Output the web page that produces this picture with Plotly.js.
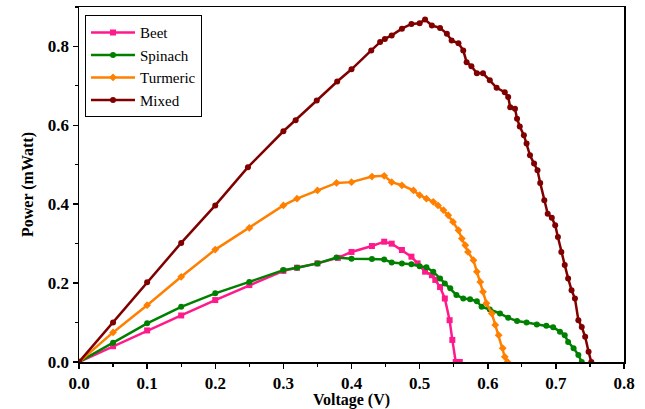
<!DOCTYPE html>
<html>
<head>
<meta charset="utf-8">
<script src="https://cdn.plot.ly/plotly-3.0.1.min.js"></script>
<style>html,body{margin:0;padding:0;background:#fff;}#chart{width:645px;height:409px;}</style>
</head>
<body>
<div id="chart"></div>
<script>
const beetV = [0,0.05,0.1,0.15,0.2,0.25,0.3,0.32,0.35,0.38,0.4,0.43,0.448,0.459,0.474,0.488,0.497,0.508,0.518,0.523,0.53,0.537,0.544,0.548,0.553,0.559];
const beetP = [0,0.04,0.08,0.118,0.157,0.195,0.231,0.239,0.25,0.264,0.279,0.294,0.305,0.30,0.284,0.267,0.25,0.229,0.22,0.208,0.19,0.161,0.106,0.056,0,0];

const spinachV = [0,0.05,0.1,0.15,0.2,0.25,0.3,0.32,0.35,0.378,0.4,0.43,0.448,0.459,0.474,0.488,0.5,0.51,0.52,0.53,0.537,0.545,0.554,0.564,0.574,0.584,0.591,0.603,0.618,0.63,0.643,0.657,0.672,0.686,0.696,0.706,0.713,0.718,0.726,0.733,0.738];
const spinachP = [0,0.049,0.098,0.14,0.174,0.203,0.233,0.239,0.25,0.265,0.262,0.261,0.26,0.252,0.25,0.248,0.243,0.24,0.229,0.212,0.199,0.187,0.17,0.161,0.159,0.154,0.14,0.133,0.123,0.112,0.104,0.1,0.095,0.092,0.088,0.077,0.068,0.051,0.035,0.018,0];

const turmericV = [0,0.05,0.1,0.15,0.2,0.25,0.3,0.32,0.35,0.378,0.4,0.43,0.448,0.459,0.474,0.491,0.5,0.51,0.52,0.527,0.535,0.542,0.549,0.557,0.562,0.567,0.571,0.579,0.584,0.589,0.593,0.598,0.606,0.611,0.616,0.622,0.625,0.629];
const turmericP = [0,0.075,0.144,0.216,0.285,0.34,0.397,0.414,0.435,0.454,0.456,0.47,0.472,0.456,0.448,0.435,0.423,0.414,0.406,0.397,0.385,0.372,0.355,0.334,0.313,0.296,0.279,0.258,0.229,0.203,0.178,0.149,0.123,0.094,0.068,0.035,0.013,0];

const mixedV = [0,0.05,0.1,0.15,0.2,0.248,0.3,0.318,0.349,0.379,0.4,0.429,0.442,0.449,0.459,0.474,0.488,0.5,0.508,0.518,0.53,0.54,0.547,0.557,0.564,0.569,0.576,0.584,0.593,0.603,0.613,0.625,0.63,0.633,0.64,0.643,0.647,0.653,0.657,0.662,0.668,0.673,0.677,0.683,0.688,0.694,0.699,0.703,0.708,0.713,0.718,0.723,0.728,0.733,0.738,0.743,0.748,0.752];
const mixedP = [0,0.1,0.202,0.302,0.397,0.494,0.585,0.613,0.663,0.711,0.742,0.79,0.811,0.819,0.828,0.845,0.857,0.859,0.868,0.853,0.847,0.832,0.815,0.808,0.79,0.76,0.75,0.732,0.732,0.714,0.695,0.684,0.672,0.646,0.642,0.617,0.597,0.575,0.554,0.524,0.503,0.486,0.454,0.41,0.376,0.366,0.347,0.317,0.279,0.246,0.212,0.182,0.161,0.106,0.089,0.064,0.026,0];

const names = ["Beet","Spinach","Turmeric","Mixed"];
const colors = ["#FF1A8C","#008000","#FF8000","#800000"];
const symbols = ["square","circle","diamond","circle"];
const xs = [beetV, spinachV, turmericV, mixedV];
const ys = [beetP, spinachP, turmericP, mixedP];

const traces = names.map((n,i)=>({
  x: xs[i], y: ys[i], name: n, type: "scatter", mode: "lines+markers",
  line: {color: colors[i], width: 2.5},
  marker: {color: colors[i], symbol: symbols[i], size: 6}
}));

const fontFam = "Times New Roman";
const axisCommon = {
  showgrid: false, zeroline: false, showline: true, mirror: true,
  linecolor: "#000", linewidth: 1.5, ticks: "outside", ticklen: 5, tickwidth: 1.5, tickcolor: "#000",
  tickfont: {family: fontFam, size: 17, color: "#000", weight: "bold"},
  tickformat: ".1f"
};

const layout = {
  width: 645, height: 409,
  font: {family: fontFam, size: 16, color: "#000"},
  margin: {l: 79, r: 21, t: 7, b: 47},
  paper_bgcolor: "#fff", plot_bgcolor: "#fff",
  showlegend: true,
  legend: {x: 0.011, y: 0.977, xanchor: "left", yanchor: "top",
    bordercolor: "#000", borderwidth: 1, bgcolor: "#fff",
    itemwidth: 44,
    font: {family: fontFam, size: 15, color: "#000", weight: "normal"}, tracegroupgap: 0},
  xaxis: Object.assign({}, axisCommon, {
    range: [0, 0.8], dtick: 0.1, tick0: 0,
    minor: {ticks: "outside", dtick: 0.05, ticklen: 3, tickwidth: 1.2, tickcolor: "#000"},
    title: {text: "Voltage (V)", font: {family: fontFam, size: 16, color: "#000", weight: "bold"}, standoff: 5}
  }),
  yaxis: Object.assign({}, axisCommon, {
    range: [0, 0.9], dtick: 0.2, tick0: 0,
    minor: {ticks: "outside", dtick: 0.1, ticklen: 3, tickwidth: 1.2, tickcolor: "#000"},
    title: {text: "Power (mWatt)", font: {family: fontFam, size: 16, color: "#000", weight: "bold"}, standoff: 10}
  })
};

Plotly.newPlot("chart", traces, layout, {staticPlot: true, displayModeBar: false});
</script>
</body>
</html>
